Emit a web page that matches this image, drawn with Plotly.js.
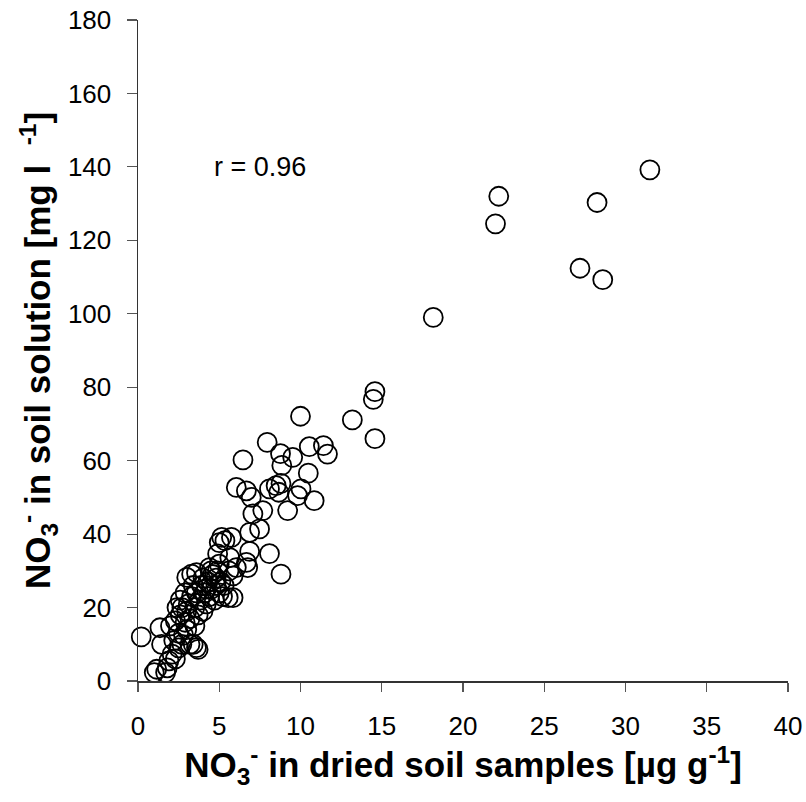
<!DOCTYPE html>
<html>
<head>
<meta charset="utf-8">
<script src="https://cdn.plot.ly/plotly-3.0.1.min.js"></script>
<style>html,body{margin:0;padding:0;background:#fff;}#chart{width:806px;height:802px;}</style>
</head>
<body>
<div id="chart"></div>
<script>
// NO3- in dried soil samples [µg g-1]
const xValues = [
  0.2, 1.0, 1.15, 1.7, 1.8, 1.9, 2.1, 1.45, 1.35, 2.2, 2.3, 2.4, 2.0, 2.5, 2.6, 2.7, 2.8, 2.9, 3.0, 3.0,
  3.1, 3.2, 3.2, 3.3, 3.4, 3.5, 3.5, 3.6, 3.7, 3.6, 3.7, 3.8, 3.9, 4.0, 4.1, 4.2, 4.3, 4.4, 4.5, 4.6,
  4.7, 4.8, 4.9, 5.0, 5.1, 5.2, 3.0, 3.3, 3.6, 4.4, 5.0, 4.5, 5.6, 5.55, 5.85, 6.05, 6.75, 4.9, 5.65, 5.85,
  5.0, 5.15, 5.35, 5.75, 2.7, 2.9, 3.4, 4.0, 4.2, 4.8, 5.3, 2.5, 2.3, 2.6,
  6.05, 6.67, 6.97, 8.09, 8.5, 8.8, 8.66, 10.03, 9.82, 10.84, 9.21, 7.68, 7.07, 7.48, 6.87, 8.09, 6.87, 6.67, 8.8,
  6.46, 7.95, 8.77, 9.52, 8.85, 10.54, 11.41, 11.66, 10.48, 10.0, 13.19, 14.58, 14.48, 14.58,
  18.17, 22.2, 22.0, 28.25, 27.2, 28.6, 31.5
];
// NO3- in soil solution [mg l-1]
const yValues = [
  12, 2.3, 3.2, 2.3, 3.6, 5.5, 7.3, 10, 14.5, 11, 16.4, 20, 15, 13, 18, 10, 12.5, 16, 14, 19,
  21, 10, 17, 23, 10, 15, 20, 9.1, 8.6, 24, 18, 22, 26, 19, 24, 21, 27, 23, 25, 29,
  22, 26, 30, 24, 27, 23, 28.2, 29.1, 29.5, 30.9, 31.8, 30, 30, 22.7, 22.7, 30.9, 30.9, 34.6, 33.6, 28.6,
  37.7, 39.1, 38.2, 39.1, 20, 24, 26, 28, 25, 28, 26, 9, 6, 22,
  52.7, 51.8, 50, 52.3, 53.2, 53.8, 51.4, 52.3, 50.5, 49.1, 46.4, 46.4, 45.5, 41.4, 40.5, 34.7, 35.3, 32.3, 29.1,
  60.2, 65, 61.9, 60.9, 58.7, 63.8, 64.1, 61.8, 56.6, 72.1, 71.1, 78.8, 76.7, 66.0,
  99.0, 132.0, 124.5, 130.3, 112.4, 109.3, 139.2
];
const xTicks = [0, 5, 10, 15, 20, 25, 30, 35, 40];
const yTicks = [0, 20, 40, 60, 80, 100, 120, 140, 160, 180];
const rText = "r = 0.96";

const font = "Arial, 'Liberation Sans', sans-serif";

Plotly.newPlot('chart', [{
  x: xValues, y: yValues, type: 'scatter', mode: 'markers',
  marker: {symbol: 'circle', size: 19, color: 'rgba(0,0,0,0)', line: {color: '#000', width: 1.8}},
  hoverinfo: 'x+y', cliponaxis: false
}], {
  width: 806, height: 802,
  margin: {l: 138, r: 18, t: 20, b: 121},
  paper_bgcolor: '#fff', plot_bgcolor: '#fff',
  showlegend: false,
  font: {family: font, color: '#000', size: 26},
  xaxis: {
    range: [0, 40], tickvals: xTicks, ticktext: xTicks.map(String),
    showgrid: false, zeroline: false, showline: true, linecolor: '#333', linewidth: 1.5,
    ticks: 'outside', ticklen: 9, tickcolor: '#555', tickwidth: 1.2,
    ticklabelstandoff: 12,
    tickfont: {family: font, size: 26, color: '#000'},
    title: {text: 'NO<sub>3</sub><sup>-</sup> in dried soil samples [µg g<sup>-1</sup>]', font: {family: font, size: 35, color: '#000', weight: 'bold'}, standoff: 12}
  },
  yaxis: {
    range: [0, 180], tickvals: yTicks, ticktext: yTicks.map(String),
    showgrid: false, zeroline: false, showline: true, linecolor: '#333', linewidth: 1.5,
    ticks: 'outside', ticklen: 10, tickcolor: '#555', tickwidth: 1.2,
    ticklabelstandoff: 10,
    tickfont: {family: font, size: 26, color: '#000'},
    title: {text: 'NO<sub>3</sub><sup>-</sup> in soil solution [mg l&nbsp;&nbsp;<sup>-1</sup>]', font: {family: font, size: 35, color: '#000', weight: 'bold'}, standoff: 6}
  },
  annotations: [{
    x: 4.55, y: 140, xref: 'x', yref: 'y', text: rText, showarrow: false,
    xanchor: 'left', yanchor: 'middle', font: {family: font, size: 27, color: '#000'}
  }]
}, {staticPlot: true});
</script>
</body>
</html>
